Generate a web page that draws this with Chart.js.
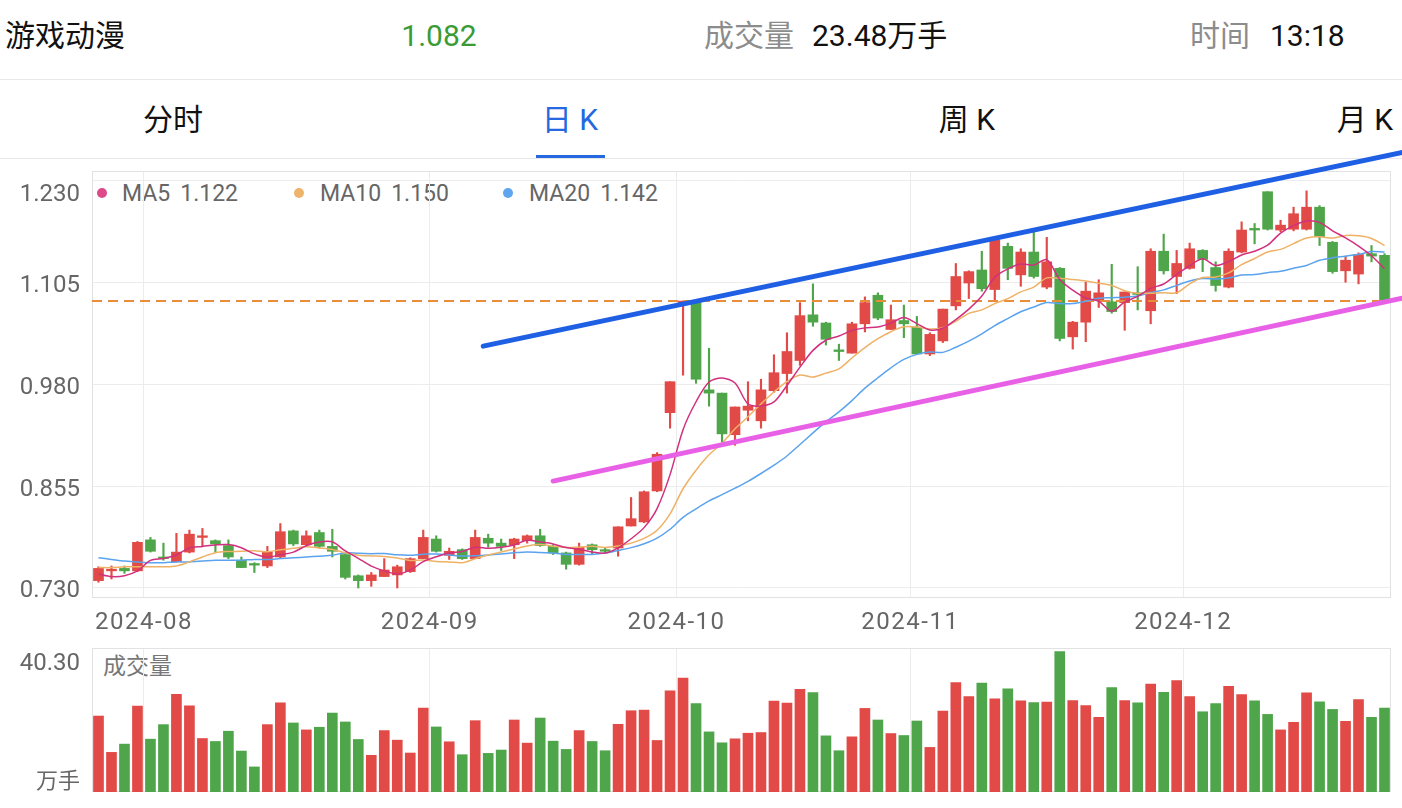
<!DOCTYPE html>
<html lang="zh">
<head>
<meta charset="utf-8">
<title>游戏动漫 日K</title>
<script src="https://cdn.jsdelivr.net/npm/chart.js@4/dist/chart.umd.min.js"></script>
<style>
  body { margin: 0; width: 1402px; height: 808px; background: #fff; position: relative; overflow: hidden;
         font-family: Roboto, "Noto Sans CJK SC", sans-serif; }
  .t { position: absolute; white-space: nowrap; line-height: 40px; }
  .c { transform: translateX(-50%); }
  .hdr { top: 16px; font-size: 30px; color: #111; }
  .gray { color: #8c8c8c; }
  .tab { top: 100px; font-size: 30px; color: #111; }
  .sep { position: absolute; left: 0; width: 1402px; height: 1px; background: #e8e8e8; }
  .lg { position: absolute; top: 179px; line-height: 30px; font-size: 23px; color: #666; white-space: nowrap;
        display: flex; gap: 10px; }
  .dot { position: absolute; top: 188px; width: 10px; height: 10px; border-radius: 50%; }
  canvas { position: absolute; left: 0; }
</style>
</head>
<body>
<div class="t hdr" style="left:5px">游戏动漫</div>
<div class="t hdr c" id="last-price" style="left:439px;color:#3a9b35"></div>
<div class="t hdr gray" style="left:704px">成交量</div>
<div class="t hdr" id="last-vol" style="left:812px"></div>
<div class="t hdr gray" style="left:1190px">时间</div>
<div class="t hdr" style="left:1270px">13:18</div>
<div class="sep" style="top:79px"></div>

<div class="t tab c" style="left:173px">分时</div>
<div class="t tab c" style="left:570px;color:#2568e0">日 K</div>
<div class="t tab c" style="left:967px">周 K</div>
<div class="t tab c" style="left:1365px">月 K</div>
<div style="position:absolute;left:536px;top:155px;width:69px;height:3px;background:#2568e0"></div>
<div class="sep" style="top:158px"></div>

<div class="dot" style="left:97px;background:#dc4a8a"></div>
<div class="lg" style="left:122px"><span>MA5</span><span id="ma5-val"></span></div>
<div class="dot" style="left:294px;background:#efb46c"></div>
<div class="lg" style="left:320px"><span>MA10</span><span id="ma10-val"></span></div>
<div class="dot" style="left:503px;background:#5ea6ef"></div>
<div class="lg" style="left:529px"><span>MA20</span><span id="ma20-val"></span></div>

<div class="t" style="left:103px;top:647px;font-size:23px;color:#777">成交量</div>

<canvas id="kline" width="1402" height="808" style="top:0"></canvas>
<canvas id="vol" width="1402" height="168" style="top:640px"></canvas>

<script>
// Daily candles, 2024-07-26 .. 2024-12-23 (100 trading days)
const monthLabels = ['2024-08', '2024-09', '2024-10', '2024-11', '2024-12'];
const monthStart = [4, 26, 45, 63, 84]; // index of first trading day of each month
const priceTicks = [0.730, 0.855, 0.980, 1.105, 1.230];
const volMax = 40.30;

const opens = [
    0.739, 0.751, 0.754, 0.751, 0.789, 0.768, 0.762, 0.774, 0.792, 0.788,
    0.782, 0.764, 0.760, 0.757, 0.768, 0.800, 0.783, 0.798, 0.781, 0.771,
    0.745, 0.739, 0.744, 0.746, 0.750, 0.766, 0.790, 0.770, 0.777, 0.766,
    0.791, 0.785, 0.783, 0.788, 0.794, 0.781, 0.773, 0.759, 0.783, 0.777,
    0.779, 0.806, 0.811, 0.849, 0.945, 1.080, 1.080, 0.973, 0.969, 0.918,
    0.948, 0.935, 0.972, 0.993, 1.009, 1.065, 1.055, 1.022, 1.018, 1.054,
    1.089, 1.047, 1.058, 1.050, 1.017, 1.033, 1.076, 1.104, 1.120, 1.096,
    1.149, 1.114, 1.142, 1.099, 1.122, 1.038, 1.056, 1.083, 1.081, 1.080,
    1.092, 1.070, 1.143, 1.112, 1.122, 1.144, 1.123, 1.099, 1.142, 1.171,
    1.216, 1.169, 1.170, 1.170, 1.197, 1.154, 1.119, 1.115, 1.140, 1.138
];
const highs = [
    0.756, 0.757, 0.757, 0.787, 0.792, 0.785, 0.797, 0.801, 0.803, 0.789,
    0.789, 0.768, 0.761, 0.781, 0.809, 0.801, 0.800, 0.801, 0.802, 0.772,
    0.746, 0.749, 0.766, 0.758, 0.767, 0.801, 0.794, 0.779, 0.778, 0.801,
    0.796, 0.790, 0.791, 0.795, 0.802, 0.783, 0.774, 0.785, 0.784, 0.779,
    0.805, 0.841, 0.849, 0.896, 0.983, 1.082, 1.083, 1.024, 0.969, 0.952,
    0.983, 0.986, 1.016, 1.043, 1.080, 1.103, 1.056, 1.029, 1.056, 1.087,
    1.092, 1.077, 1.077, 1.063, 1.043, 1.072, 1.128, 1.119, 1.143, 1.158,
    1.153, 1.146, 1.167, 1.160, 1.123, 1.057, 1.105, 1.108, 1.127, 1.093,
    1.124, 1.146, 1.164, 1.144, 1.153, 1.145, 1.130, 1.146, 1.179, 1.177,
    1.216, 1.181, 1.197, 1.217, 1.199, 1.155, 1.137, 1.141, 1.150, 1.140
];
const lows = [
    0.737, 0.741, 0.748, 0.750, 0.774, 0.764, 0.762, 0.773, 0.781, 0.774,
    0.766, 0.755, 0.749, 0.755, 0.767, 0.782, 0.782, 0.779, 0.768, 0.741,
    0.730, 0.732, 0.744, 0.730, 0.749, 0.766, 0.774, 0.765, 0.765, 0.766,
    0.780, 0.776, 0.766, 0.785, 0.781, 0.771, 0.753, 0.758, 0.772, 0.773,
    0.769, 0.806, 0.810, 0.848, 0.926, 0.991, 0.981, 0.953, 0.909, 0.905,
    0.935, 0.926, 0.970, 0.969, 1.003, 1.051, 1.028, 1.009, 1.018, 1.044,
    1.059, 1.047, 1.037, 1.017, 1.015, 1.031, 1.071, 1.085, 1.094, 1.081,
    1.108, 1.100, 1.110, 1.097, 1.033, 1.023, 1.032, 1.074, 1.067, 1.046,
    1.071, 1.054, 1.115, 1.091, 1.121, 1.118, 1.094, 1.098, 1.141, 1.152,
    1.169, 1.167, 1.168, 1.169, 1.150, 1.116, 1.105, 1.103, 1.130, 1.082
];
const closes = [
    0.754, 0.753, 0.751, 0.786, 0.775, 0.766, 0.774, 0.796, 0.794, 0.784,
    0.768, 0.755, 0.758, 0.774, 0.799, 0.784, 0.794, 0.781, 0.775, 0.743,
    0.739, 0.746, 0.752, 0.756, 0.766, 0.792, 0.775, 0.775, 0.766, 0.792,
    0.785, 0.781, 0.790, 0.794, 0.782, 0.773, 0.759, 0.780, 0.777, 0.775,
    0.805, 0.815, 0.848, 0.894, 0.983, 1.081, 0.986, 0.969, 0.919, 0.952,
    0.953, 0.973, 0.994, 1.020, 1.064, 1.056, 1.035, 1.020, 1.054, 1.080,
    1.061, 1.059, 1.054, 1.017, 1.041, 1.072, 1.112, 1.118, 1.097, 1.157,
    1.122, 1.142, 1.112, 1.130, 1.036, 1.056, 1.094, 1.092, 1.069, 1.093,
    1.090, 1.143, 1.119, 1.128, 1.146, 1.133, 1.101, 1.143, 1.169, 1.169,
    1.170, 1.175, 1.189, 1.197, 1.161, 1.118, 1.132, 1.139, 1.137, 1.082
];
// 万手
const volumes = [
    21.26, 11.09, 13.40, 24.03, 14.79, 18.86, 27.36, 24.12, 14.97, 14.14,
    17.01, 11.46, 7.02, 18.86, 24.96, 19.32, 17.38, 18.12, 22.09, 19.60,
    14.70, 10.26, 17.19, 14.51, 10.91, 23.48, 18.21, 14.05, 10.44, 19.96,
    10.81, 11.74, 20.15, 13.68, 20.70, 14.23, 11.92, 17.19, 14.14, 11.55,
    18.95, 22.74, 22.92, 14.42, 28.28, 31.89, 24.77, 16.82, 13.77, 14.88,
    16.45, 16.64, 25.42, 24.86, 28.75, 27.82, 15.71, 11.55, 15.44, 23.39,
    20.15, 16.36, 15.81, 19.87, 12.48, 22.65, 30.59, 26.71, 30.50, 26.07,
    28.84, 25.51, 25.05, 25.14, 39.28, 25.60, 24.22, 20.89, 29.21, 25.60,
    24.96, 30.22, 27.91, 31.15, 26.71, 22.46, 24.77, 29.58, 27.27, 25.51,
    21.72, 17.38, 19.50, 27.73, 25.23, 23.11, 19.78, 25.88, 20.89, 23.48
];

// MA values at the left edge (they depend on days before the window)
const ma5Head = [0.747, 0.744, 0.745, 0.751];
const ma10Head = [0.755, 0.755, 0.756, 0.756, 0.756, 0.756, 0.757, 0.762, 0.768];
const ma20Head = [0.767, 0.765, 0.763, 0.762, 0.761, 0.761, 0.762, 0.762, 0.763, 0.764,
                  0.764, 0.764, 0.765, 0.765, 0.766, 0.767, 0.768, 0.769, 0.770];

// Hand-drawn channel lines: [day index, price]
const upperTrend = [[29.62, 1.0266], [100.37, 1.2643]];
const lowerTrend = [[35.0, 0.8611], [100.37, 1.0854]];

const RED = '#e14a46';
const GREEN = '#4fa54a';
const GRID = '#ececec';

function movingAvg(n, head) {
    return closes.map((c, i) => {
        if (i < n - 1) return head[i];
        let s = 0;
        for (let k = i - n + 1; k <= i; k++) s += closes[k];
        return s / n;
    });
}

const ma5 = movingAvg(5, ma5Head);
const ma10 = movingAvg(10, ma10Head);
const ma20 = movingAvg(20, ma20Head);
const last = closes.length - 1;
const upColors = closes.map((c, i) => c >= opens[i] ? RED : GREEN);

document.getElementById('last-price').textContent = closes[last].toFixed(3);
document.getElementById('last-vol').textContent = volumes[last].toFixed(2) + '万手';
document.getElementById('ma5-val').textContent = ma5[last].toFixed(3);
document.getElementById('ma10-val').textContent = ma10[last].toFixed(3);
document.getElementById('ma20-val').textContent = ma20[last].toFixed(3);

const xy = arr => arr.map((v, i) => ({ x: i, y: v }));
const pts = arr => arr.map(p => ({ x: p[0], y: p[1] }));

function drawFrame(chart) {
    const { ctx, chartArea: a } = chart;
    ctx.save();
    ctx.strokeStyle = '#e2e2e2';
    ctx.lineWidth = 1;
    ctx.strokeRect(a.left + 0.5, a.top + 0.5, a.right - a.left - 1, a.bottom - a.top - 1);
    ctx.restore();
}

const sharedX = {
    type: 'linear', min: -0.5, max: 99.5, offset: false,
    grid: { color: GRID, drawTicks: false, offset: false },
    border: { display: false },
    ticks: { display: false },
    afterBuildTicks: s => { s.ticks = monthStart.map(i => ({ value: i - 0.5 })); }
};

const klineText = {
    id: 'klineText',
    beforeDatasetsDraw: drawFrame,
    afterDraw(chart) {
        const { ctx, chartArea: a, scales: { x, y } } = chart;
        ctx.save();
        ctx.fillStyle = '#666';
        ctx.textBaseline = 'middle';
        ctx.font = '24px Roboto, "Noto Sans CJK SC", sans-serif';
        ctx.textAlign = 'right';
        priceTicks.forEach(v => {
            const py = Math.max(y.getPixelForValue(v) + 3.5, a.top + 24);
            ctx.fillText(v.toFixed(3), 80, py);
        });
        ctx.textAlign = 'center';
        ctx.letterSpacing = '1.5px';
        monthStart.forEach((idx, k) => ctx.fillText(monthLabels[k], x.getPixelForValue(idx - 0.5), a.bottom + 25));
        ctx.restore();
    }
};

const volText = {
    id: 'volText',
    beforeDatasetsDraw: drawFrame,
    afterDraw(chart) {
        const { ctx, chartArea: a } = chart;
        ctx.save();
        ctx.fillStyle = '#666';
        ctx.textBaseline = 'middle';
        ctx.textAlign = 'right';
        ctx.font = '24px Roboto, "Noto Sans CJK SC", sans-serif';
        ctx.fillText(volMax.toFixed(2), 80, a.top + 16);
        ctx.font = '22px "Noto Sans CJK SC", sans-serif';
        ctx.fillText('万手', 80, a.bottom - 12);
        ctx.restore();
    }
};

const lineDs = (label, data, color, width, order, extra) => Object.assign({
    type: 'line', label, data, borderColor: color, borderWidth: width,
    pointRadius: 0, fill: false, order
}, extra || {});

// Price chart
new Chart(document.getElementById('kline'), {
    type: 'bar',
    data: {
        datasets: [
            lineDs('upper', pts(upperTrend), '#1f5fe3', 5, 0, { clip: false, borderCapStyle: 'round' }),
            lineDs('lower', pts(lowerTrend), '#e860e6', 5, 0, { clip: false, borderCapStyle: 'round' }),
            lineDs('MA5', xy(ma5), '#d2307e', 1.5, 1, { tension: 0.3 }),
            lineDs('MA10', xy(ma10), '#efb166', 1.5, 1, { tension: 0.3 }),
            lineDs('MA20', xy(ma20), '#5aa3ee', 1.5, 1, { tension: 0.3 }),
            lineDs('last', [{ x: -0.5, y: closes[last] }, { x: 99.5, y: closes[last] }], '#e88d3a', 2, 2,
                { borderDash: [10, 6] }),
            {
                label: 'body', order: 3, grouped: false, barThickness: 10, minBarLength: 1.5,
                data: opens.map((o, i) => ({ x: i, y: [o, closes[i]] })),
                backgroundColor: upColors, borderWidth: 0
            },
            {
                label: 'wick', order: 4, grouped: false, barThickness: 1.5,
                data: lows.map((l, i) => ({ x: i, y: [l, highs[i]] })),
                backgroundColor: upColors, borderWidth: 0
            }
        ]
    },
    options: {
        responsive: false,
        animation: false,
        layout: { padding: { left: 92, right: 11, top: 171, bottom: 210 } },
        plugins: { legend: { display: false }, tooltip: { enabled: false } },
        scales: {
            x: sharedX,
            y: {
                min: 0.7177, max: 1.2414, beginAtZero: false,
                grid: { color: GRID, drawTicks: false },
                border: { display: false },
                ticks: { display: false },
                afterBuildTicks: s => { s.ticks = priceTicks.map(v => ({ value: v })); }
            }
        }
    },
    plugins: [klineText]
});

// Volume chart
new Chart(document.getElementById('vol'), {
    type: 'bar',
    data: {
        datasets: [{
            label: '成交量', grouped: false, barThickness: 10,
            data: xy(volumes),
            backgroundColor: upColors, borderWidth: 0
        }]
    },
    options: {
        responsive: false,
        animation: false,
        layout: { padding: { left: 92, right: 11, top: 8, bottom: 16 } },
        plugins: { legend: { display: false }, tooltip: { enabled: false } },
        scales: {
            x: sharedX,
            y: {
                min: 0, max: volMax,
                grid: { display: false, drawTicks: false },
                border: { display: false },
                ticks: { display: false }
            }
        }
    },
    plugins: [volText]
});
</script>
</body>
</html>
